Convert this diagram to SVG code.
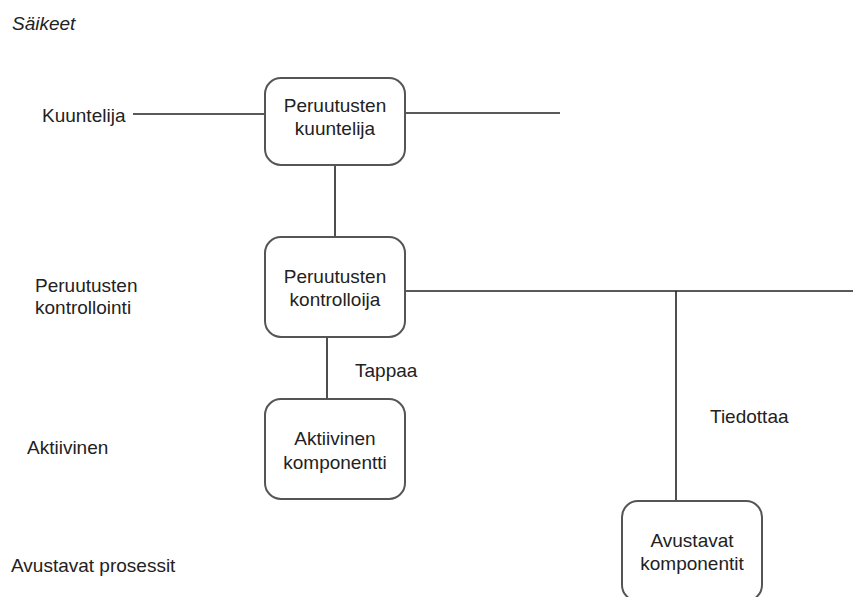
<svg xmlns="http://www.w3.org/2000/svg" width="853" height="597" viewBox="0 0 853 597">
<style>
text{font-family:"Liberation Sans",Arial,sans-serif;font-size:19px;fill:#222}
.c{text-anchor:middle}
.box{fill:#fff;stroke:#555;stroke-width:2}
.ln{stroke:#222;stroke-width:1.6;fill:none}
</style>
<rect width="853" height="597" fill="#fff"/>
<text x="12" y="30" font-style="italic">Säikeet</text>
<text x="42" y="122">Kuuntelija</text>
<text x="35" y="292">Peruutusten</text>
<text x="35" y="314">kontrollointi</text>
<text x="27" y="454">Aktiivinen</text>
<text x="11" y="572">Avustavat prosessit</text>
<g id="connectors">
<line class="ln" x1="133" y1="114" x2="265" y2="114"/>
<line class="ln" x1="405" y1="113" x2="560" y2="113"/>
<line class="ln" x1="335" y1="165" x2="335" y2="237"/>
<line class="ln" x1="405" y1="291" x2="853" y2="291"/>
<line class="ln" x1="327" y1="337" x2="327" y2="399"/>
<line class="ln" x1="676" y1="291" x2="676" y2="501"/>
<text x="355" y="377">Tappaa</text>
<text x="710" y="423">Tiedottaa</text>
</g>
<g id="n1"><rect class="box" x="265" y="78" width="140" height="87" rx="16"/><text class="c" x="335" y="112">Peruutusten</text><text class="c" x="335" y="135">kuuntelija</text></g>
<g id="n2"><rect class="box" x="265" y="237" width="140" height="100" rx="16"/><text class="c" x="335" y="283">Peruutusten</text><text class="c" x="335" y="306">kontrolloija</text></g>
<g id="n3"><rect class="box" x="265" y="399" width="140" height="100" rx="16"/><text class="c" x="335" y="445">Aktiivinen</text><text class="c" x="335" y="469">komponentti</text></g>
<g id="n4"><rect class="box" x="622" y="501" width="140" height="100" rx="16"/><text class="c" x="692" y="547">Avustavat</text><text class="c" x="692" y="570">komponentit</text></g>
</svg>
